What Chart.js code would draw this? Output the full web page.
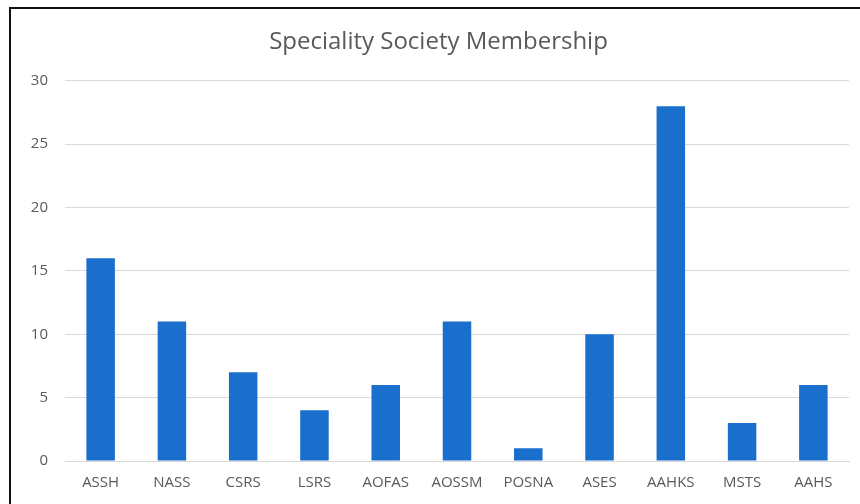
<!DOCTYPE html>
<html>
<head>
<meta charset="utf-8">
<script src="https://cdn.jsdelivr.net/npm/chart.js@4"></script>
<style>
  html, body { margin: 0; padding: 0; background: #fff; }
  #wrap { position: relative; width: 860px; height: 504px; }
  #frame {
    position: absolute; left: 9px; top: 7px; width: 860px; height: 510px;
    border-top: 2px solid #111; border-left: 2px solid #111; pointer-events: none;
  }
</style>
</head>
<body>
<div id="wrap">
  <canvas id="membershipChart" width="860" height="504"></canvas>
  <div id="frame"></div>
</div>
<script>
const societies = ['ASSH', 'NASS', 'CSRS', 'LSRS', 'AOFAS', 'AOSSM', 'POSNA', 'ASES', 'AAHKS', 'MSTS', 'AAHS'];
const members = [16, 11, 7, 4, 6, 11, 1, 10, 28, 3, 6];
const yTicks = [0, 5, 10, 15, 20, 25, 30];

const textColor = '#595959';
const gridColor = '#d9d9d9';

const ctx = document.getElementById('membershipChart').getContext('2d');
new Chart(ctx, {
  type: 'bar',
  data: {
    labels: societies,
    datasets: [{
      label: 'Members',
      data: members,
      backgroundColor: '#1a6fcd',
      borderWidth: 0,
      barPercentage: 1,
      categoryPercentage: 0.4
    }]
  },
  options: {
    responsive: false,
    animation: false,
    layout: { padding: { left: 28, right: 11, top: 0, bottom: 0 } },
    plugins: {
      legend: { display: false },
      tooltip: { enabled: false },
      title: {
        display: true,
        text: 'Speciality Society Membership',
        color: textColor,
        font: { family: 'Open Sans', size: 24, weight: 'normal' },
        padding: { top: 28, bottom: 24 }
      }
    },
    scales: {
      x: {
        grid: { display: false, drawTicks: false },
        border: { display: true, color: gridColor, width: 1 },
        ticks: {
          color: textColor,
          font: { family: 'Open Sans', size: 15 },
          padding: 13,
          maxRotation: 0
        },
        afterFit: (scale) => { scale.height = 43; }
      },
      y: {
        min: 0,
        max: 30,
        afterBuildTicks: (scale) => { scale.ticks = yTicks.map(v => ({ value: v })); },
        grid: { color: gridColor, drawTicks: false },
        border: { display: false },
        ticks: {
          color: textColor,
          font: { family: 'Open Sans', size: 15 },
          padding: 17
        },
        afterFit: (scale) => { scale.width = 37; }
      }
    }
  }
});
</script>
</body>
</html>
